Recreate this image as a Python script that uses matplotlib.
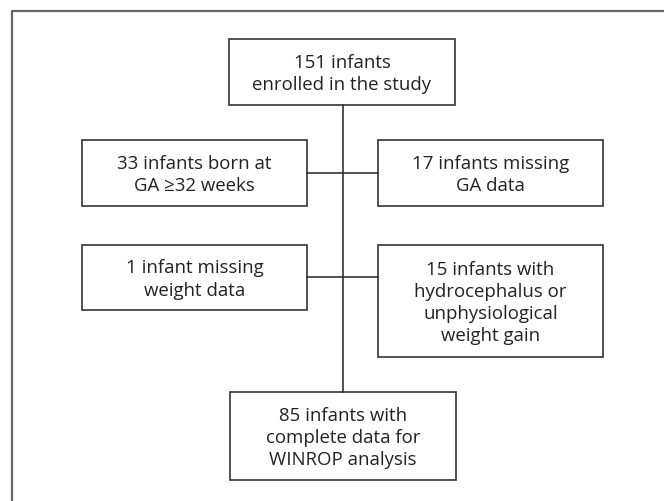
import matplotlib.pyplot as plt
from matplotlib.patches import Rectangle

# box texts, top to bottom
enrolled = "151 infants\nenrolled in the study"
excl_left = ["33 infants born at\nGA \u226532 weeks", "1 infant missing\nweight data"]
excl_right = ["17 infants missing\nGA data",
              "15 infants with\nhydrocephalus or\nunphysiological\nweight gain"]
final = "85 infants with\ncomplete data for\nWINROP analysis"

W, H = 664, 502
fig = plt.figure(figsize=(W / 100, H / 100), dpi=100)
ax = fig.add_axes([0, 0, 1, 1])
ax.set_xlim(0, W)
ax.set_ylim(H, 0)
ax.axis("off")

edge = "#333333"
txt = "#222222"
font = dict(family="Open Sans", fontsize=13.4, color=txt, ha="center", va="center",
            linespacing=1.3)


def box(x0, y0, x1, y1, label):
    ax.add_patch(Rectangle((x0, y0), x1 - x0, y1 - y0, fill=False, ec=edge, lw=1.2))
    ax.text((x0 + x1) / 2, (y0 + y1) / 2 + 1, label, **font)


# outer frame (open to the right and bottom)
ax.plot([11.5, 11.5, W + 5], [H + 5, 12, 12], color="#666666", lw=1.6, solid_capstyle="butt")

cx = 343
ax.plot([cx, cx], [106, 393], color=edge, lw=1.2)

box(229, 40, 455, 106, enrolled)

rows = [(141, 207, 174), (246, 311, 278)]
for i, (y0, y1, yc) in enumerate(rows):
    box(82, y0, 307, y1, excl_left[i])
    ax.plot([307, cx], [yc, yc], color=edge, lw=1.2)
    yb = 358 if i == 1 else y1
    box(378, y0, 603, yb, excl_right[i])
    ax.plot([cx, 378], [yc, yc], color=edge, lw=1.2)

box(230, 393, 456, 481, final)

fig.savefig("out.png", dpi=100)
